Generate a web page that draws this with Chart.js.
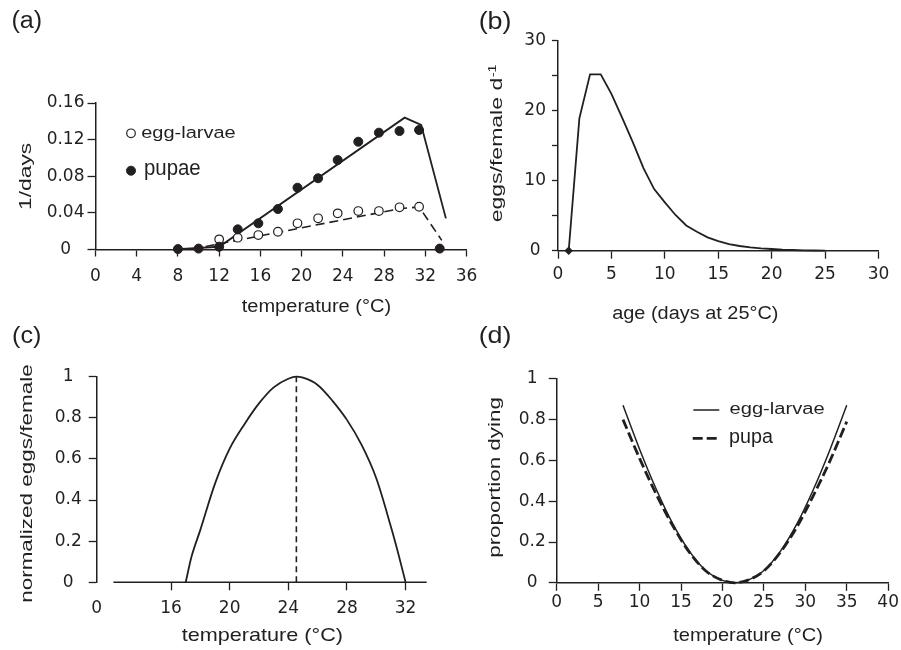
<!DOCTYPE html>
<html lang="en">
<head>
    <meta charset="UTF-8">
    <title>Development, fecundity and mortality vs temperature</title>
    <script src="https://cdn.jsdelivr.net/npm/chart.js"></script>
    <style>
        html, body { margin: 0; padding: 0; background: #fff; }
        #wrap { position: relative; width: 901px; height: 650px; overflow: hidden; }
        #wrap canvas { position: absolute; left: 0; top: 0; }
    </style>
</head>
<body>
<div id="wrap">
    <canvas id="chartA" width="901" height="650"></canvas>
    <canvas id="chartB" width="901" height="650"></canvas>
    <canvas id="chartC" width="901" height="650"></canvas>
    <canvas id="chartD" width="901" height="650"></canvas>
</div>
<script>
    const INK = '#231f20';

    // (a) development rate (1/days) against temperature
    const pupaeTemps = [8, 10, 12, 13.8, 15.8, 17.7, 19.6, 21.6, 23.5, 25.5, 27.5, 29.5, 31.4, 33.4];
    const pupaeRate = [0.0005, 0.001, 0.003, 0.022, 0.0286, 0.0442, 0.0675, 0.0778, 0.0977, 0.1177, 0.1276, 0.1294, 0.1305, 0.001];
    const eggTemps = [12, 13.8, 15.8, 17.7, 19.6, 21.6, 23.5, 25.5, 27.5, 29.5, 31.4];
    const eggRate = [0.0111, 0.0129, 0.0158, 0.0194, 0.0286, 0.0341, 0.0395, 0.042, 0.042, 0.0461, 0.0467];
    const pupaeFitTemps = [8, 12, 30, 31.6, 34];
    const pupaeFitRate = [0.0005, 0.003, 0.144, 0.136, 0.034];
    const eggFitTemps = [8, 9.4, 29.5, 31.4, 33.6];
    const eggFitRate = [0.0005, 0.0005, 0.0445, 0.0465, 0.010];
    const xTicksA = [0, 4, 8, 12, 16, 20, 24, 28, 32, 36];
    const yTicksA = [0, 0.04, 0.08, 0.12, 0.16];

    // (b) eggs per female per day against age
    const ageDays = [1, 2, 3, 4, 5, 6, 7, 8, 9, 10, 11, 12, 13, 14, 15, 16, 17, 18, 19, 20, 21, 22, 23, 24, 25];
    const eggsPerFemale = [0, 18.9, 25.2, 25.2, 22.4, 19.0, 15.5, 11.8, 8.8, 6.9, 5.1, 3.6, 2.7, 1.9, 1.38, 0.95, 0.67, 0.48, 0.33, 0.24, 0.15, 0.1, 0.06, 0.03, 0];
    const xTicksB = [0, 5, 10, 15, 20, 25, 30];
    const yTicksB = [0, 5, 10, 15, 20, 25, 30];
    const yLabelsB = ['0', '', '10', '', '20', '', '30'];

    // (c) normalized fecundity against temperature
    const fecTemps = [17, 17.4, 18, 19, 20, 21, 22, 23, 24, 24.55, 25, 26, 27, 28, 29, 30, 31, 31.5, 32];
    const fecNorm = [0, 0.125, 0.255, 0.48, 0.65, 0.768, 0.87, 0.948, 0.99, 1.0, 0.995, 0.96, 0.884, 0.79, 0.668, 0.506, 0.27, 0.14, 0];
    const fecPeakTemps = [24.55, 24.55];
    const fecPeakVals = [0, 1];
    const xStartC = 10.93;      // axis break: this end of the axis is labelled "0"
    const xLineFromC = 12.07;
    const xTicksC = [xStartC, 16, 20, 24, 28, 32];
    const yTicksC = [0, 0.2, 0.4, 0.6, 0.8, 1];

    // (d) proportion dying against temperature
    const mortTemps = [8, 10, 12, 14, 16, 18, 20, 21.5, 23, 25, 27, 29, 31, 33, 35];
    const eggMort = [0.87, 0.655, 0.46, 0.29, 0.155, 0.06, 0.012, 0, 0.012, 0.06, 0.155, 0.29, 0.46, 0.655, 0.87];
    const pupaMort = [0.80, 0.61, 0.435, 0.28, 0.15, 0.058, 0.012, 0, 0.012, 0.058, 0.15, 0.275, 0.43, 0.6, 0.79];
    const xTicksD = [0, 5, 10, 15, 20, 25, 30, 35, 40];
    const yTicksD = [0, 0.2, 0.4, 0.6, 0.8, 1];

    Chart.defaults.font.family = '"DejaVu Sans", sans-serif';
    Chart.defaults.color = INK;

    function pairs(xs, ys) {
        return xs.map((x, i) => ({ x: x, y: ys[i] }));
    }

    function num(v) {
        return String(+v.toFixed(2));
    }

    // draw a text (with optional superscript) so that its ink fills a given box
    function fitText(ctx, text, box, vertical, sup) {
        ctx.save();
        const big = '40px "Liberation Sans", Arial, sans-serif';
        const small = '25px "Liberation Sans", Arial, sans-serif';
        ctx.font = big;
        const m = ctx.measureText(text);
        let left = -m.actualBoundingBoxLeft, right = m.actualBoundingBoxRight;
        let top = -m.actualBoundingBoxAscent, bottom = m.actualBoundingBoxDescent;
        const supX = m.width + 1, supY = -15;
        if (sup) {
            ctx.font = small;
            const s = ctx.measureText(sup);
            right = Math.max(right, supX + s.actualBoundingBoxRight);
            top = Math.min(top, supY - s.actualBoundingBoxAscent);
        }
        const w = right - left, h = bottom - top;
        const [x0, y0, x1, y1] = box;
        if (!vertical) {
            ctx.translate(x0, y0);
            ctx.scale((x1 - x0) / w, (y1 - y0) / h);
        } else {
            ctx.translate(x0, y1);
            ctx.rotate(-Math.PI / 2);
            ctx.scale((y1 - y0) / w, (x1 - x0) / h);
        }
        ctx.translate(-left, -top);
        ctx.fillStyle = INK;
        ctx.textAlign = 'left';
        ctx.textBaseline = 'alphabetic';
        ctx.font = big;
        ctx.fillText(text, 0, 0);
        if (sup) {
            ctx.font = small;
            ctx.fillText(sup, supX, supY);
        }
        ctx.restore();
    }

    function decor(cfg) {
        return {
            id: 'decor',
            afterDraw(chart) {
                const ctx = chart.ctx;
                if (cfg.xLineFrom != null) {
                    const xs = chart.scales.x;
                    const y = chart.chartArea.bottom;
                    ctx.save();
                    ctx.strokeStyle = INK;
                    ctx.lineWidth = 1.5;
                    ctx.beginPath();
                    ctx.moveTo(xs.getPixelForValue(cfg.xLineFrom), y);
                    ctx.lineTo(chart.chartArea.right, y);
                    ctx.stroke();
                    ctx.restore();
                }
                (cfg.legend || []).forEach(it => {
                    const ds = chart.data.datasets[it.ds];
                    ctx.save();
                    ctx.strokeStyle = ds.borderColor;
                    ctx.lineWidth = ds.borderWidth;
                    ctx.beginPath();
                    if (it.kind === 'point') {
                        ctx.arc(it.at[0], it.at[1], ds.pointRadius, 0, 2 * Math.PI);
                        ctx.fillStyle = ds.backgroundColor;
                        ctx.fill();
                    } else {
                        ctx.setLineDash(ds.borderDash || []);
                        ctx.moveTo(it.at[0], it.at[1]);
                        ctx.lineTo(it.at[2], it.at[1]);
                    }
                    ctx.stroke();
                    ctx.restore();
                    fitText(ctx, ds.label, it.box);
                });
                (cfg.texts || []).forEach(t => fitText(ctx, t.text, t.box, t.vertical, t.sup));
            }
        };
    }

    function scale(ticksArr, o) {
        return {
            type: 'linear',
            min: o.min,
            max: o.max,
            afterBuildTicks: s => { s.ticks = ticksArr.map(v => ({ value: v })); },
            afterFit: s => {
                if (s.isHorizontal()) s.height = 40; else s.width = 50;
            },
            grid: {
                drawOnChartArea: false,
                drawTicks: true,
                tickLength: o.tl,
                tickWidth: 1.3,
                tickColor: o.tickColor || INK
            },
            border: { display: o.border !== false, color: INK, width: 1.5 },
            ticks: {
                color: INK,
                font: { size: 17 },
                padding: o.pad,
                crossAlign: o.cross || 'near',
                maxRotation: 0,
                autoSkip: false,
                callback: o.fmt || num
            }
        };
    }

    function baseOptions(pad, scales) {
        return {
            responsive: false,
            animation: false,
            devicePixelRatio: 1,
            events: [],
            layout: { padding: pad },
            plugins: { legend: { display: false }, tooltip: { enabled: false } },
            scales: scales
        };
    }

    // ---- (a) ----
    new Chart(document.getElementById('chartA'), {
        type: 'scatter',
        data: {
            datasets: [
                { label: 'egg-larvae', data: pairs(eggTemps, eggRate), pointRadius: 4.3, pointStyle: 'circle',
                  backgroundColor: '#ffffff', borderColor: INK, borderWidth: 1.2, clip: false, order: 2 },
                { label: 'pupae', data: pairs(pupaeTemps, pupaeRate), pointRadius: 4.5, pointStyle: 'circle',
                  backgroundColor: INK, borderColor: INK, borderWidth: 1, clip: false, order: 1 },
                { label: 'pupae fit', data: pairs(pupaeFitTemps, pupaeFitRate), showLine: true, pointRadius: 0,
                  borderColor: INK, borderWidth: 1.8, tension: 0, clip: false, order: 3 },
                { label: 'egg-larvae fit', data: pairs(eggFitTemps, eggFitRate), showLine: true, pointRadius: 0,
                  borderColor: INK, borderWidth: 1.6, borderDash: [9, 5], tension: 0, clip: false, order: 3 }
            ]
        },
        options: baseOptions({ left: 45.5, right: 434.5, top: 103, bottom: 360.5 }, {
            x: scale(xTicksA, { min: 0, max: 36, tl: 7, pad: 10 }),
            y: scale(yTicksA, { min: 0, max: 0.16, tl: 8, pad: 3, cross: 'center' })
        }),
        plugins: [decor({
            legend: [
                { ds: 0, kind: 'point', at: [131, 133.3], box: [141.7, 126, 235, 141.7] },
                { ds: 1, kind: 'point', at: [131, 170.7], box: [145, 163.3, 200, 179.3] }
            ],
            texts: [
                { text: '(a)', box: [12.7, 10, 40.7, 32.7] },
                { text: '1/days', box: [18.3, 143.3, 34.5, 208.3], vertical: true },
                { text: 'temperature (°C)', box: [241.7, 298.7, 390, 316] }
            ]
        })]
    });

    // ---- (b) ----
    new Chart(document.getElementById('chartB'), {
        type: 'scatter',
        data: {
            datasets: [
                { label: 'eggs/female/day', data: pairs(ageDays, eggsPerFemale), showLine: true, tension: 0,
                  borderColor: INK, backgroundColor: INK, borderWidth: 1.8, pointStyle: 'rectRot',
                  pointRadius: c => (c.dataIndex === 0 ? 3 : 0), clip: false }
            ]
        },
        options: baseOptions({ left: 508, right: 22.5, top: 40.7, bottom: 359.3 }, {
            x: scale(xTicksB, { min: 0, max: 30, tl: 8, pad: 6 }),
            y: scale(yTicksB, { min: 0, max: 30, tl: 6, pad: 6, cross: 'center',
                                fmt: (v, i) => yLabelsB[i] })
        }),
        plugins: [decor({
            texts: [
                { text: '(b)', box: [480, 11.3, 510, 33.3] },
                { text: 'eggs/female d', sup: '-1', box: [488.3, 65, 505, 221.7], vertical: true },
                { text: 'age (days at 25°C)', box: [612.7, 305.7, 777.3, 322.3] }
            ]
        })]
    });

    // ---- (c) ----
    new Chart(document.getElementById('chartC'), {
        type: 'scatter',
        data: {
            datasets: [
                { label: 'normalized eggs/female', data: pairs(fecTemps, fecNorm), showLine: true, pointRadius: 0,
                  cubicInterpolationMode: 'monotone', borderColor: INK, borderWidth: 1.8, clip: false },
                { label: 'optimum', data: pairs(fecPeakTemps, fecPeakVals), showLine: true, pointRadius: 0,
                  borderColor: INK, borderWidth: 1.6, borderDash: [6, 4], clip: false }
            ]
        },
        options: baseOptions({ left: 46.7, right: 474.3, top: 376.7, bottom: 27.7 }, {
            x: scale(xTicksC, { min: xStartC, max: 33.44, tl: 8, pad: 8, border: false,
                                tickColor: c => (c.index === 0 ? 'rgba(0,0,0,0)' : INK),
                                fmt: (v, i) => (i === 0 ? '0' : num(v)) }),
            y: scale(yTicksC, { min: 0, max: 1, tl: 8, pad: 7, cross: 'center' })
        }),
        plugins: [decor({
            xLineFrom: xLineFromC,
            texts: [
                { text: '(c)', box: [13.3, 325, 40, 348.3] },
                { text: 'normalized eggs/female', box: [20, 365, 35, 601.7], vertical: true },
                { text: 'temperature (°C)', box: [181.7, 628.3, 341.7, 645] }
            ]
        })]
    });

    // ---- (d) ----
    new Chart(document.getElementById('chartD'), {
        type: 'scatter',
        data: {
            datasets: [
                { label: 'egg-larvae', data: pairs(mortTemps, eggMort), showLine: true, pointRadius: 0,
                  cubicInterpolationMode: 'monotone', borderColor: INK, borderWidth: 1.5, clip: false },
                { label: 'pupa', data: pairs(mortTemps, pupaMort), showLine: true, pointRadius: 0,
                  cubicInterpolationMode: 'monotone', borderColor: INK, borderWidth: 2.8, borderDash: [10, 4], clip: false }
            ]
        },
        options: baseOptions({ left: 506.7, right: 11, top: 378.8, bottom: 27.2 }, {
            x: scale(xTicksD, { min: 0, max: 40, tl: 8, pad: 2 }),
            y: scale(yTicksD, { min: 0, max: 1, tl: 8, pad: 3, cross: 'center' })
        }),
        plugins: [decor({
            legend: [
                { ds: 0, kind: 'line', at: [693.3, 410, 719.3], box: [730, 401.7, 824, 417.3] },
                { ds: 1, kind: 'line', at: [692.7, 438.3, 719.3], box: [730, 431.7, 773.3, 446.7] }
            ],
            texts: [
                { text: '(d)', box: [480, 325, 510, 348.3] },
                { text: 'proportion dying', box: [488.3, 398.3, 503.3, 556.7], vertical: true },
                { text: 'temperature (°C)', box: [673.3, 628.3, 821.7, 645] }
            ]
        })]
    });
</script>
</body>
</html>
